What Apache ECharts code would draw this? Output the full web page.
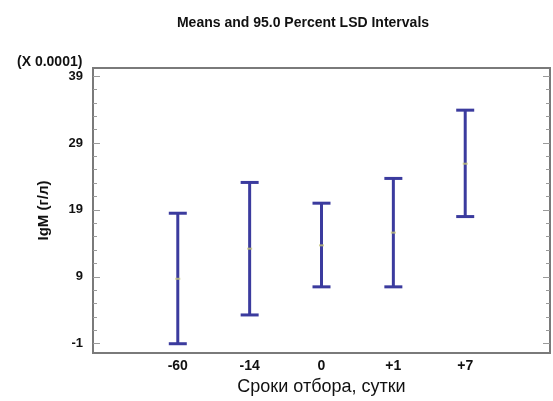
<!DOCTYPE html>
<html>
<head>
<meta charset="utf-8">
<script src="https://cdn.jsdelivr.net/npm/echarts@6/dist/echarts.min.js"></script>
<style>
  html, body { margin: 0; padding: 0; background: #fff; }
  #chart { width: 553px; height: 401px; }
</style>
</head>
<body>
<div id="chart"></div>
<script>
// Sampling times (days) and LSD interval for IgM, in units of 0.0001
const categories = ['-60', '-14', '0', '+1', '+7'];
const means = [8.7, 13.2, 13.7, 15.6, 25.9];
const lower = [-1.0, 3.3, 7.5, 7.5, 18.0];
const upper = [18.5, 23.1, 20.0, 23.7, 33.9];

const majorTicks = [-1, 9, 19, 29, 39];
const minorTicks = [];
for (let v = -1; v <= 39; v += 2) minorTicks.push(v);

const yMin = -2.4, yMax = 40.2;
const barColor = '#3b3b9e';
const tickColor = '#9a9a9a';
const font = 'Liberation Sans, Arial, sans-serif';

const chart = echarts.init(document.getElementById('chart'));

function yAxisDef(position, ticks, len, showLabels) {
  return {
    type: 'value', position: position, min: yMin, max: yMax,
    axisLine: { show: false, onZero: false },
    splitLine: { show: false },
    axisTick: { show: true, inside: true, length: len, customValues: ticks,
                lineStyle: { color: tickColor, width: 1 } },
    axisLabel: { show: showLabels, customValues: majorTicks, margin: 10,
                 color: '#111', fontWeight: 'bold', fontSize: 13, fontFamily: font }
  };
}

chart.setOption({
  animation: false,
  backgroundColor: '#fff',
  title: [
    { text: 'Means and 95.0 Percent LSD Intervals', left: 298, top: 11, textAlign: 'center',
      textStyle: { fontSize: 14, fontWeight: 'bold', color: '#111', fontFamily: font } },
    { text: '(X 0.0001)', left: 12, top: 50,
      textStyle: { fontSize: 14, fontWeight: 'bold', color: '#111', fontFamily: font } }
  ],
  grid: { left: 93, top: 68, right: 3, bottom: 46, show: true,
          borderColor: '#7a7a7a', borderWidth: 2, backgroundColor: '#fff' },
  xAxis: {
    type: 'value', min: -1.18, max: 5.18,
    name: 'Сроки отбора, сутки', nameLocation: 'middle', nameGap: 24,
    nameTextStyle: { fontSize: 18, color: '#111', fontFamily: font, verticalAlign: 'top' },
    axisLine: { show: false, onZero: false }, axisTick: { show: false }, splitLine: { show: false },
    axisLabel: { customValues: [0, 1, 2, 3, 4], margin: 6,
                 formatter: v => categories[Math.round(v)],
                 color: '#111', fontWeight: 'bold', fontSize: 14, fontFamily: font }
  },
  yAxis: [
    Object.assign(yAxisDef('left', majorTicks, 7, true), {
      name: 'IgM (г/л)', nameLocation: 'middle', nameGap: 42, nameRotate: 90,
      nameTextStyle: { fontSize: 15, fontWeight: 'bold', color: '#111', fontFamily: font }
    }),
    yAxisDef('left', minorTicks, 4, false),
    yAxisDef('right', majorTicks, 7, false),
    yAxisDef('right', minorTicks, 4, false)
  ],
  series: [
    {
      type: 'custom',
      yAxisIndex: 0,
      data: categories.map((c, i) => [i, lower[i], upper[i]]),
      renderItem: function (params, api) {
        const lo = api.coord([api.value(0), api.value(1)]);
        const hi = api.coord([api.value(0), api.value(2)]);
        const half = 9;
        const style = { stroke: barColor, lineWidth: 3 };
        return {
          type: 'group',
          children: [
            { type: 'line', shape: { x1: lo[0], y1: lo[1], x2: hi[0], y2: hi[1] }, style: style },
            { type: 'line', shape: { x1: hi[0] - half, y1: hi[1], x2: hi[0] + half, y2: hi[1] }, style: style },
            { type: 'line', shape: { x1: lo[0] - half, y1: lo[1], x2: lo[0] + half, y2: lo[1] }, style: style }
          ]
        };
      }
    },
    {
      type: 'scatter',
      yAxisIndex: 0,
      symbol: 'rect',
      symbolSize: [5, 2],
      itemStyle: { color: '#c6c67a' },
      data: categories.map((c, i) => [i, means[i]]),
      z: 5
    }
  ]
});
</script>
</body>
</html>
